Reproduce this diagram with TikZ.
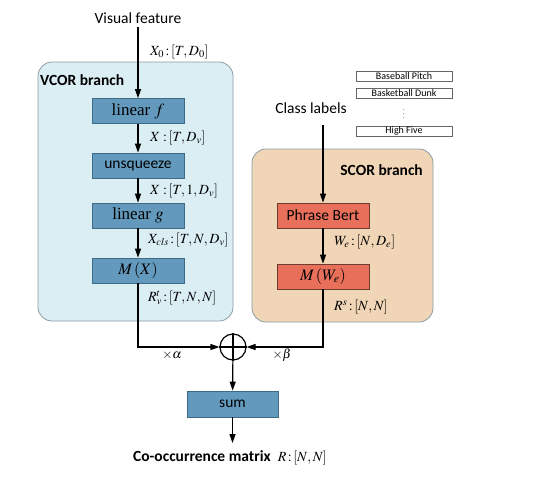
\documentclass[tikz,border=0pt]{standalone}
\usepackage{mathptmx}
\usepackage[no-math]{fontspec}
\setmainfont{Carlito}
\newfontfamily\tms{Liberation Serif}
\usetikzlibrary{arrows.meta}
\definecolor{vcorfill}{HTML}{DBEEF4}
\definecolor{scorfill}{HTML}{F0D6B6}
\definecolor{panelline}{HTML}{8C9CA3}
\definecolor{blockblue}{HTML}{6399BD}
\definecolor{blueline}{HTML}{3F6A86}
\definecolor{blockred}{HTML}{E8705B}
\definecolor{redline}{HTML}{6E3B30}
\begin{document}
\begin{tikzpicture}
	[
	x=1pt, y=-1pt,
	font=\fontsize{15.5}{17}\selectfont,
	panel/.style={draw=panelline, line width=0.8pt, rounded corners=14pt},
	bluebox/.style={draw=blueline, fill=blockblue, line width=0.8pt, minimum width=92pt, minimum height=25pt, inner sep=0pt},
	redbox/.style={draw=redline, fill=blockred, line width=0.8pt, minimum width=92pt, minimum height=25pt, inner sep=0pt},
	labelbox/.style={draw=black!60, line width=0.4pt, minimum width=96pt, minimum height=10pt, inner sep=0pt, font=\fontsize{10}{10}\selectfont},
	dim/.style={anchor=west, inner sep=0pt, font=\fontsize{14}{15}\selectfont},
	title/.style={inner sep=0pt, font=\fontsize{15.5}{17}\selectfont\bfseries},
	arr/.style={-{Triangle[width=6pt,length=9pt]}, line width=1.2pt}
	]
		\useasboundingbox (0,0) rectangle (554,480);
		
		% branch panels
		\draw [panel, fill=vcorfill] (38,62) rectangle (233,321);
		\draw [panel, fill=scorfill] (252,149) rectangle (433,322);
		\node [title, anchor=west] (vcor) at (40,80) {VCOR branch};
		\node [title, anchor=east] (scor) at (423,170) {SCOR branch};
		
		% visual branch
		\node (vf) at (138,18) {Visual feature};
		\node [bluebox] (lf) at (138,111) {\tms\fontsize{17}{19}\selectfont linear $f$};
		\node [bluebox] (unsq) at (138,165.5) {unsqueeze};
		\node [bluebox] (lg) at (138,215.5) {\tms\fontsize{17}{19}\selectfont linear $g$};
		\node [bluebox] (mx) at (138,270.5) {\fontsize{16}{18}\selectfont$M\,(X)$};
		
		\node [dim] (d0) at (150,52) {$X_0\,{:}\,[T,D_0]$};
		\node [dim] (d1) at (150,138) {$X\;{:}\,[T,D_v]$};
		\node [dim] (d2) at (150,191) {$X\;{:}\,[T,1,D_v]$};
		\node [dim] (d3) at (148,240) {$X_{cls}\,{:}\,[T,N,D_v]$};
		\node [dim] (d4) at (148,298) {$R_v^t\,{:}\,[T,N,N]$};
		
		% semantic branch
		\node (cl) at (311,108) {Class labels};
		\coordinate (clin) at (323,125);
		\node [redbox] (pb) at (323,215.5) {Phrase Bert};
		\node [redbox] (mw) at (323,276.5) {\fontsize{16}{18}\selectfont$M\,(W_e)$};
		
		\node [dim] (d5) at (334,242) {$W_e\,{:}\,[N,D_e]$};
		\node [dim] (d6) at (334,307) {$R^s\,{:}\,[N,N]$};
		
		% class names
		\node [labelbox] (bp) at (404,76) {Baseball Pitch};
		\node [labelbox] (bd) at (404,93) {Basketball Dunk};
		\node [inner sep=0pt, font=\fontsize{6}{6}\selectfont] (dots) at (404,111) {$\vdots$};
		\node [labelbox] (hf) at (404,131) {High Five};
		
		% fusion
		\node [circle, draw, line width=1.2pt, minimum size=26pt, inner sep=0pt] (plus) at (233,347) {};
		\draw [line width=1.2pt] (plus.north) -- (plus.south) (plus.west) -- (plus.east);
		\node [font=\fontsize{13}{14}\selectfont] (wa) at (172,355) {$\times\alpha$};
		\node [font=\fontsize{13}{14}\selectfont] (wb) at (282,355) {$\times\beta$};
		\node [bluebox, minimum width=91pt, minimum height=26pt] (sum) at (232.5,404) {sum};
		\coordinate (out) at (232.5,443);
		\node [inner sep=0pt] (com) at (230,458) {\textbf{Co-occurrence matrix}\ \ {\fontsize{14}{15}\selectfont$R\,{:}\,[N,N]$}};
		
		% drawing code
		\foreach \from/\to in {vf/lf,lf/unsq,unsq/lg,lg/mx,clin/pb,pb/mw,plus/sum,sum/out} \draw [arr] (\from) -- (\to);
		\foreach \from in {mx,mw} \draw [arr] (\from) |- (plus);
	\end{tikzpicture}
\end{document}
